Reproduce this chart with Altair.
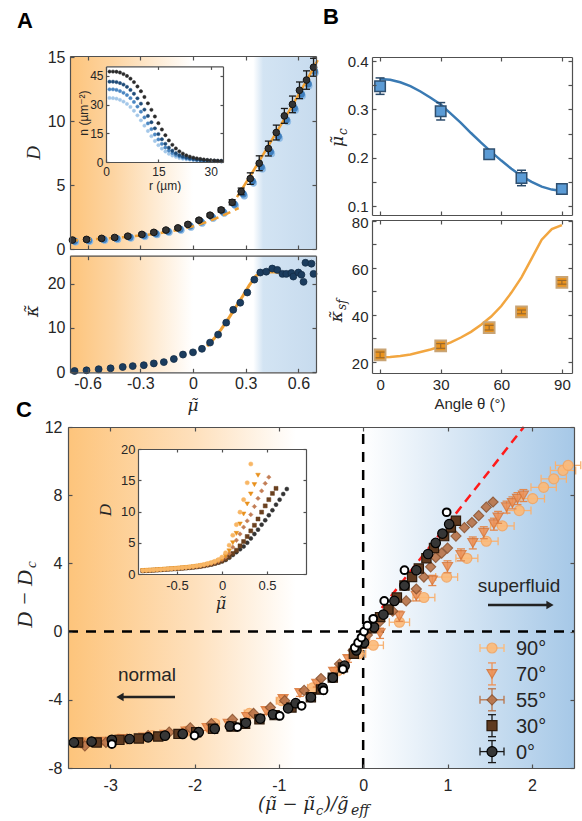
import altair as alt
import pandas as pd

W, H = 582, 821
SANS = "Liberation Sans, Arial, DejaVu Sans"
SERIF = "Liberation Serif, DejaVu Serif"
DSERIF = "DejaVu Serif"
LBL = "#262626"
FRAME = "#505050"

# ---------------- data ----------------
# Panel A (top): D vs mu
A_MU = [-0.686, -0.606, -0.52, -0.446, -0.371, -0.291, -0.223, -0.154, -0.086, -0.029, 0.034, 0.097,
        0.16, 0.223, 0.274, 0.326, 0.377, 0.429, 0.474, 0.52, 0.566, 0.606, 0.646, 0.686]
A_D = [0.70, 0.75, 0.83, 0.90, 1.00, 1.14, 1.30, 1.48, 1.65, 1.92, 2.25, 2.64,
       3.05, 3.65, 4.50, 5.50, 6.70, 7.85, 9.10, 10.40, 11.30, 12.40, 13.20, 14.20]
A_DERR = [0.1, 0.1, 0.1, 0.1, 0.1, 0.1, 0.1, 0.1, 0.1, 0.1, 0.12, 0.12,
          0.15, 0.2, 0.26, 0.45, 0.58, 0.58, 0.58, 0.58, 0.65, 0.65, 0.72, 0.7]
AB_MU = [-0.674, -0.594, -0.508, -0.434, -0.359, -0.279, -0.211, -0.142, -0.074, -0.017, 0.046, 0.109,
         0.172, 0.235, 0.286, 0.338, 0.389, 0.441, 0.486, 0.532, 0.577, 0.617, 0.656, 0.692]
AB_D = [0.62, 0.67, 0.75, 0.82, 0.92, 1.05, 1.20, 1.38, 1.55, 1.80, 2.12, 2.50,
        2.90, 3.50, 4.30, 5.30, 6.40, 7.60, 8.80, 10.10, 11.00, 12.10, 12.90, 13.90]
AL_MU = [-0.668, -0.588, -0.502, -0.428, -0.353, -0.273, -0.205, -0.136, -0.068, -0.011, 0.052, 0.115,
         0.178, 0.241, 0.292, 0.344, 0.395, 0.447, 0.492, 0.538, 0.583, 0.622, 0.66, 0.695]
AL_D = [0.55, 0.60, 0.68, 0.75, 0.85, 0.98, 1.12, 1.30, 1.47, 1.70, 2.02, 2.40,
        2.80, 3.40, 4.15, 5.15, 6.25, 7.45, 8.65, 9.95, 10.85, 11.95, 12.75, 13.75]
AFD_MU = [-0.70, -0.60, -0.50, -0.40, -0.30, -0.20, -0.10, 0.00, 0.05, 0.10, 0.15, 0.20, 0.26]
AFD_D = [0.66, 0.73, 0.82, 0.92, 1.05, 1.22, 1.45, 1.78, 1.98, 2.22, 2.50, 2.80, 3.20]
AFS_MU = [0.25, 0.35, 0.45, 0.55, 0.65, 0.71]
AFS_D = [4.05, 6.25, 8.55, 10.85, 13.25, 14.75]

# Panel A (bottom): kappa vs mu
K_MU = [-0.674, -0.606, -0.537, -0.469, -0.4, -0.343, -0.28, -0.223, -0.166, -0.109, -0.057, 0.0,
        0.051, 0.097, 0.143, 0.189, 0.229, 0.269, 0.309, 0.349, 0.383, 0.417, 0.451, 0.48,
        0.509, 0.531, 0.56, 0.571, 0.6, 0.617, 0.629, 0.64, 0.674, 0.686]
K_V = [0.3, 0.45, 0.7, 0.9, 1.2, 1.4, 1.6, 2.0, 2.3, 3.0, 4.0, 4.5,
       5.3, 6.7, 8.5, 11.2, 14.1, 15.7, 18.0, 20.9, 22.5, 22.7, 23.4, 23.1,
       22.2, 22.2, 22.4, 21.6, 22.5, 22.0, 20.4, 24.7, 24.5, 22.2]
KF_MU = [0.08, 0.12, 0.16, 0.20, 0.24, 0.28, 0.32, 0.36, 0.40, 0.45, 0.50, 0.55, 0.60, 0.62]
KF_V = [5.9, 7.6, 9.7, 12.0, 14.5, 17.0, 19.6, 21.8, 22.6, 22.7, 22.5, 22.4, 22.2, 21.6]

# Panel A inset: density profiles n(r)
R_UM = [1, 2, 3, 4, 5, 6, 7, 8, 9, 10, 11, 12, 13, 14, 15, 16, 17, 18, 19, 20, 21, 22, 23, 24, 25,
        26, 27, 28, 29, 30, 31, 32, 33]
N_1 = [47.3, 47.3, 47.2, 46.8, 46.0, 45.0, 43.6, 41.8, 39.5, 37.0, 34.0, 30.7, 27.3, 23.8, 20.3, 17.0,
       14.0, 11.3, 9.0, 7.1, 5.6, 4.4, 3.5, 2.8, 2.3, 1.9, 1.6, 1.3, 1.1, 0.9, 0.8, 0.7, 0.6]
N_2 = [42.0, 42.0, 41.8, 41.3, 40.5, 39.3, 37.7, 35.7, 33.3, 30.5, 27.4, 24.1, 20.8, 17.6, 14.6, 11.9,
       9.5, 7.5, 5.9, 4.6, 3.6, 2.9, 2.3, 1.9, 1.6, 1.3, 1.1, 0.9, 0.8, 0.7, 0.6, 0.5, 0.5]
N_3 = [38.0, 38.0, 37.7, 37.1, 36.2, 35.0, 33.4, 31.4, 29.0, 26.3, 23.3, 20.2, 17.2, 14.4, 11.8, 9.5,
       7.6, 6.0, 4.7, 3.7, 2.9, 2.3, 1.9, 1.6, 1.3, 1.1, 0.9, 0.8, 0.7, 0.6, 0.5, 0.5, 0.4]
N_4 = [33.5, 33.4, 33.1, 32.5, 31.6, 30.4, 28.8, 26.8, 24.4, 21.8, 19.0, 16.2, 13.5, 11.0, 8.8, 7.0,
       5.5, 4.3, 3.4, 2.7, 2.1, 1.7, 1.4, 1.2, 1.0, 0.9, 0.8, 0.7, 0.6, 0.5, 0.5, 0.4, 0.4]

# Panel B
ANGLE = [0, 30, 54, 70, 90]
MUC = [0.348, 0.296, 0.207, 0.158, 0.135]
MUC_ERR = [0.017, 0.018, 0.006, 0.016, 0.005]
KSF = [23.0, 26.8, 34.6, 41.3, 53.9]
KSF_ERR = [1.2, 1.0, 1.0, 0.8, 0.8]
THETA_FIT = [0, 5, 10, 15, 20, 25, 30, 35, 40, 45, 50, 55, 60, 65, 70, 75, 80, 85, 90]
MUC_FIT = [0.363, 0.361, 0.356, 0.348, 0.337, 0.324, 0.310, 0.291, 0.272, 0.251, 0.231, 0.212,
           0.194, 0.177, 0.162, 0.150, 0.140, 0.134, 0.131]
KSF_FIT = [22.0, 22.1, 22.5, 23.2, 24.2, 25.3, 26.6, 28.3, 30.4, 32.8, 35.8, 39.3, 43.8, 49.5,
           56.0, 64.0, 72.0, 76.5, 78.2]

# Panel C: scaled data
C90_X = [-3.30, -2.90, -2.50, -2.10, -1.76, -1.35, -0.97, -0.60, -0.30, -0.05, 0.12, 0.43, 0.72,
         0.99, 1.23, 1.46, 1.65, 1.85, 2.01, 2.14, 2.26, 2.37, 2.43]
C90_Y = [-6.50, -6.30, -6.10, -5.85, -5.40, -4.80, -4.05, -3.30, -2.30, -1.30, -0.80, 0.55, 2.00,
         3.20, 4.30, 5.30, 6.20, 7.10, 7.80, 8.46, 8.96, 9.45, 9.75]
C90_XERR = [0.05, 0.05, 0.05, 0.05, 0.05, 0.06, 0.06, 0.06, 0.07, 0.08, 0.12, 0.12, 0.13,
            0.13, 0.13, 0.14, 0.14, 0.14, 0.14, 0.15, 0.15, 0.15, 0.15]
C70_X = [-3.35, -3.10, -2.85, -2.60, -2.35, -2.10, -1.85, -1.60, -1.38, -1.15, -0.95, -0.75, -0.55,
         -0.35, -0.18, 0.02, 0.20, 0.43, 0.63, 0.82, 1.00, 1.16, 1.30, 1.43, 1.55, 1.60, 1.70,
         1.77, 1.83, 1.90]
C70_Y = [-6.55, -6.45, -6.30, -6.20, -6.05, -5.85, -5.65, -5.40, -5.00, -4.65, -3.95, -3.60, -3.05,
         -2.35, -1.60, -0.70, -0.10, 0.90, 2.10, 3.00, 3.80, 4.50, 5.20, 5.80, 6.30, 6.70, 7.30,
         7.55, 7.80, 7.98]
C70_YERR = [0.15, 0.15, 0.15, 0.15, 0.15, 0.15, 0.15, 0.15, 0.2, 0.2, 0.2, 0.2, 0.2,
            0.2, 0.2, 0.25, 0.3, 0.3, 0.3, 0.3, 0.35, 0.35, 0.35, 0.35, 0.35, 0.35, 0.35,
            0.35, 0.35, 0.35]
C55_X = [-3.30, -3.05, -2.80, -2.55, -2.30, -2.05, -1.80, -1.55, -1.30, -1.10, -0.93, -0.70, -0.50,
         -0.28, -0.12, 0.05, 0.20, 0.35, 0.51, 0.63, 0.72, 0.80, 0.86, 0.93, 1.00, 1.10, 1.20,
         1.29, 1.37, 1.46, 1.54]
C55_Y = [-6.70, -6.50, -6.30, -6.10, -5.90, -5.65, -5.40, -5.15, -4.80, -4.45, -4.05, -3.45, -2.75,
         -1.90, -1.10, -0.20, 0.60, 1.20, 1.80, 2.50, 3.20, 3.80, 4.35, 4.60, 4.90, 5.60, 6.10,
         6.40, 6.80, 7.30, 7.60]
C30_X = [-3.38, -3.16, -2.89, -2.66, -2.43, -2.19, -1.98, -1.78, -1.56, -1.40, -1.23, -1.05, -0.85,
         -0.62, -0.50, -0.36, -0.24, -0.11, -0.02, 0.10, 0.20, 0.30, 0.40, 0.49, 0.58, 0.66,
         0.75, 0.84, 0.96, 1.04, 1.10]
C30_Y = [-6.50, -6.50, -6.35, -6.27, -6.15, -6.00, -5.90, -5.70, -5.57, -5.40, -5.15, -4.90, -4.45,
         -3.85, -3.40, -2.70, -2.10, -1.30, -0.70, 0.20, 0.85, 1.30, 2.00, 2.70, 3.20, 3.70,
         4.30, 4.90, 5.60, 6.10, 6.50]
C0_X = [-3.43, -3.22, -2.98, -2.77, -2.55, -2.35, -2.14, -1.95, -1.76, -1.58, -1.39, -1.22, -1.07,
        -0.89, -0.80, -0.62, -0.48, -0.36, -0.22, -0.08, 0.01, 0.13, 0.24, 0.37, 0.49, 0.63,
        0.77, 0.86, 0.94, 1.02]
C0_Y = [-6.50, -6.45, -6.35, -6.30, -6.20, -6.10, -6.00, -5.90, -5.70, -5.55, -5.35, -5.10, -4.85,
        -4.50, -4.20, -3.85, -3.30, -2.70, -2.00, -1.10, -0.65, 0.25, 1.00, 1.80, 2.70, 3.60,
        4.55, 5.20, 5.75, 6.30]
CW_X = [-2.98, -2.00, -1.49, -0.99, -0.73, -0.47, -0.24, -0.10, -0.06, -0.02, 0.01, 0.05, 0.12,
        0.25, 0.49, 0.99]
CW_Y = [-6.60, -6.10, -5.60, -4.95, -4.35, -3.45, -2.20, -0.95, -0.65, -0.35, 0.00, 0.35, 0.75,
        1.80, 3.60, 7.00]
RED_X = [0.0, 1.905]
RED_Y = [0.0, 12.0]

# Panel C inset: D vs mu for each angle
MU_I = [-0.88, -0.84, -0.80, -0.76, -0.72, -0.68, -0.64, -0.60, -0.56, -0.52, -0.48, -0.44, -0.40,
        -0.36, -0.32, -0.28, -0.24, -0.20, -0.16, -0.12, -0.08, -0.04, 0.00, 0.04, 0.08, 0.12,
        0.16, 0.20, 0.24, 0.28, 0.32, 0.36, 0.40, 0.44, 0.48, 0.52, 0.56, 0.60, 0.64, 0.68, 0.72]
DI_0 = [0.50, 0.53, 0.56, 0.59, 0.63, 0.67, 0.71, 0.75, 0.79, 0.83, 0.87, 0.91, 0.96, 1.01, 1.07,
        1.14, 1.22, 1.31, 1.42, 1.54, 1.68, 1.84, 2.02, 2.25, 2.60, 3.05, 3.50, 3.95, 4.40, 5.00,
        5.70, 6.40, 7.10, 7.90, 8.60, 9.40, 10.20, 11.10, 11.90, 12.80, 13.60]
DI_30 = [0.52, 0.55, 0.58, 0.61, 0.65, 0.69, 0.73, 0.77, 0.81, 0.85, 0.89, 0.93, 0.98, 1.03, 1.09,
         1.16, 1.24, 1.33, 1.44, 1.56, 1.71, 1.88, 2.10, 2.40, 2.80, 3.30, 3.80, 4.50, 5.20, 6.00,
         6.90, 7.80, 8.80, 9.90, 10.90, 11.90, 12.90, 13.70]
DI_55 = [0.54, 0.57, 0.60, 0.63, 0.67, 0.71, 0.75, 0.79, 0.83, 0.87, 0.91, 0.96, 1.01, 1.07, 1.13,
         1.20, 1.29, 1.39, 1.51, 1.65, 1.82, 2.02, 2.30, 2.70, 3.30, 4.30, 5.40, 6.40, 7.50, 8.50,
         9.50, 10.80, 12.10, 13.30, 14.50, 15.50]
DI_70 = [0.55, 0.58, 0.61, 0.64, 0.68, 0.72, 0.76, 0.80, 0.84, 0.88, 0.93, 0.98, 1.03, 1.09, 1.16,
         1.24, 1.33, 1.44, 1.57, 1.72, 1.90, 2.12, 2.40, 2.90, 3.70, 5.00, 6.50, 8.00, 9.60, 11.20,
         12.80, 14.30, 15.80]
DI_90 = [0.56, 0.59, 0.62, 0.65, 0.69, 0.73, 0.77, 0.81, 0.86, 0.91, 0.96, 1.01, 1.07, 1.14, 1.21,
         1.29, 1.39, 1.51, 1.65, 1.82, 2.02, 2.30, 2.70, 3.40, 4.60, 6.20, 7.90, 9.90, 11.90, 14.60,
         17.60]

LEG_LABELS = ["90°", "70°", "55°", "30°", "0°"]

# ---------------- panel geometry (pixel ranges) ----------------
P = {
    "A1": ([-0.7, 0.7], [70, 316], [0, 15.08], [249, 56]),
    "A2": ([-0.7, 0.7], [70, 316], [0, 26.3], [372.3, 255.7]),
    "AI": ([0, 33.5], [106, 223], [0, 50], [162, 66.4]),
    "B1": ([-4, 95], [372, 572], [0.0814, 0.4083], [215, 57]),
    "B2": ([-4, 95], [372, 572], [15.3, 80.4], [373, 220]),
    "C": ([-3.5, 2.5], [68, 574], [-8, 12], [768, 427]),
    "CI": ([-0.933, 0.933], [138, 306], [0, 20], [574, 449]),
}


def sc(p, ch):
    xd, xr, yd, yr = P[p]
    if ch == "x":
        return alt.Scale(domain=xd, range=xr, zero=False, nice=False)
    return alt.Scale(domain=yd, range=yr, zero=False, nice=False)


def ex(p, f):
    return alt.X(f, type="quantitative", scale=sc(p, "x"), axis=None)


def ey(p, f):
    return alt.Y(f, type="quantitative", scale=sc(p, "y"), axis=None)


def points(p, xs, ys, shape, size, fill, stroke, sw=1.0, op=1.0):
    df = pd.DataFrame({"x": xs, "y": ys})
    return alt.Chart(df).mark_point(shape=shape, size=size, filled=True, fill=fill, stroke=stroke,
                                    strokeWidth=sw, opacity=op).encode(x=ex(p, "x"), y=ey(p, "y"))


def line(p, xs, ys, color, width, dash=None):
    df = pd.DataFrame({"x": xs, "y": ys})
    kw = dict(color=color, strokeWidth=width)
    if dash:
        kw["strokeDash"] = dash
    return alt.Chart(df).mark_line(**kw).encode(x=ex(p, "x"), y=ey(p, "y"))


def yerr(p, xs, ys, es, color, width=1.2, cap=6, op=1.0):
    df = pd.DataFrame({"x": xs, "y": ys, "e": es})
    df["lo"] = df["y"] - df["e"]
    df["hi"] = df["y"] + df["e"]
    b = alt.Chart(df)
    out = [b.mark_rule(color=color, strokeWidth=width, opacity=op).encode(x=ex(p, "x"), y=ey(p, "lo"), y2="hi")]
    for f in ("lo", "hi"):
        out.append(b.mark_rule(color=color, strokeWidth=width, opacity=op, xOffset=-cap / 2, x2Offset=cap / 2)
                   .encode(x=ex(p, "x"), x2="x", y=ey(p, f)))
    return out


def xerr(p, xs, ys, es, color, width=1.2, cap=6, op=1.0):
    df = pd.DataFrame({"x": xs, "y": ys, "e": es})
    df["lo"] = df["x"] - df["e"]
    df["hi"] = df["x"] + df["e"]
    b = alt.Chart(df)
    out = [b.mark_rule(color=color, strokeWidth=width, opacity=op).encode(x=ex(p, "lo"), x2="hi", y=ey(p, "y"))]
    for f in ("lo", "hi"):
        out.append(b.mark_rule(color=color, strokeWidth=width, opacity=op, yOffset=-cap / 2, y2Offset=cap / 2)
                   .encode(x=ex(p, f), y=ey(p, "y"), y2="y"))
    return out


def grad_rect(p, stops):
    xd, xr, yd, yr = P[p]
    df = pd.DataFrame({"x0": [xd[0]], "x1": [xd[1]], "y0": [yd[0]], "y1": [yd[1]]})
    g = alt.Gradient(gradient="linear", x1=0, x2=1, y1=0, y2=0,
                     stops=[alt.GradientStop(color=c, offset=o) for o, c in stops])
    return alt.Chart(df).mark_rect(fill=g).encode(x=ex(p, "x0"), x2="x1", y=ey(p, "y0"), y2="y1")


def white_rect(p):
    xd, xr, yd, yr = P[p]
    df = pd.DataFrame({"x0": [xd[0]], "x1": [xd[1]], "y0": [yd[0]], "y1": [yd[1]]})
    return alt.Chart(df).mark_rect(fill="white").encode(x=ex(p, "x0"), x2="x1", y=ey(p, "y0"), y2="y1")


def text(t, x, y, size, font=SANS, angle=0, align="center", baseline="middle", style="normal",
         weight="normal", color=LBL):
    df = pd.DataFrame({"t": [t]})
    return alt.Chart(df).mark_text(fontSize=size, font=font, angle=angle, align=align, baseline=baseline,
                                   fontStyle=style, fontWeight=weight, color=color).encode(
        text="t:N", x=alt.value(x), y=alt.value(y))


def math(t, x, y, size, angle=0, align="center", baseline="middle", font=DSERIF):
    return text(t, x, y, size, font=font, angle=angle, align=align, baseline=baseline, style="italic")


def axes(p, xt, yt, xl, yl, lsize, tsize=4, padx=4, pady=5, yoff=0):
    xd, xr, yd, yr = P[p]
    left, right = xr
    bottom, top = yr
    df = pd.DataFrame({"x": [xd[0]], "y": [yd[0]]})
    base = alt.Chart(df).mark_point(opacity=0)
    common = dict(grid=False, title=None, zindex=1, domainColor=FRAME, domainWidth=1.2,
                  tickColor=FRAME, tickWidth=1.2, labels=False, tickSize=tsize)
    lab = dict(grid=False, title=None, zindex=1, ticks=False, domain=False, labelFont=SANS,
               labelFontSize=lsize, labelColor=LBL, labelFlush=False, labelOverlap=False,
               labelExpr="'' + datum.value")
    out = []
    out.append(base.encode(
        x=alt.X("x:Q", scale=sc(p, "x"), axis=alt.Axis(orient="bottom", offset=bottom - H, values=xl,
                                                       labelPadding=padx, **lab)),
        y=alt.Y("y:Q", scale=sc(p, "y"), axis=alt.Axis(orient="left", offset=-left, values=yl,
                                                       labelPadding=pady, labelOffset=yoff, **lab))))
    out.append(base.encode(
        x=alt.X("x:Q", scale=sc(p, "x"), axis=alt.Axis(orient="top", offset=-bottom, values=xt, **common)),
        y=alt.Y("y:Q", scale=sc(p, "y"), axis=alt.Axis(orient="right", offset=left - W, values=yt, **common))))
    out.append(base.encode(
        x=alt.X("x:Q", scale=sc(p, "x"), axis=alt.Axis(orient="bottom", offset=top - H, values=xt, **common)),
        y=alt.Y("y:Q", scale=sc(p, "y"), axis=alt.Axis(orient="left", offset=-right, values=yt, **common))))
    return out


L = []
ORANGE_BG = "#FDC47B"
# ---------------- backgrounds ----------------
A_STOPS = [(0, ORANGE_BG), (0.18, "#FDD5A3"), (0.5, "#FFFFFF"), (0.745, "#FFFFFF"),
           (0.785, "#D3E4F3"), (1, "#C7DBEE")]
L.append(grad_rect("A1", A_STOPS))
L.append(grad_rect("A2", A_STOPS))
L.append(grad_rect("C", [(0, ORANGE_BG), (0.25, "#FEE0BC"), (0.45, "#FFFFFF"), (0.582, "#FFFFFF"),
                          (1, "#A6C8E7")]))

# ---------------- Panel A top ----------------
L.append(points("A1", AL_MU, AL_D, "circle", 45, "#8DBAE4", "#8DBAE4", 0.5))
L.append(points("A1", AB_MU, AB_D, "circle", 45, "#3F7EBD", "#3F7EBD", 0.5))
L.append(line("A1", AFD_MU, AFD_D, "#F0A033", 2.5, [8, 5]))
L.append(line("A1", AFS_MU, AFS_D, "#F0A033", 2.5))
L += yerr("A1", A_MU, A_D, A_DERR, "#1A1A1A", 1.3, 7)
L.append(points("A1", A_MU, A_D, "circle", 45, "#333333", "#151515", 1.0))

# inset A
L.append(white_rect("AI"))
for ns, col in ((N_4, "#A3C7E8"), (N_3, "#4A86C2"), (N_2, "#1E4B78"), (N_1, "#2A2A2A")):
    L.append(points("AI", R_UM, ns, "circle", 11, col, col, 0.5))

# ---------------- Panel A bottom ----------------
L.append(line("A2", KF_MU, KF_V, "#F0A033", 3))
L.append(points("A2", K_MU, K_V, "circle", 48, "#1B3C5E", "#132C46", 0.8))

# ---------------- Panel B ----------------
L.append(line("B1", THETA_FIT, MUC_FIT, "#3A7AB3", 2.5))
L += yerr("B1", ANGLE, MUC, MUC_ERR, "#2A4A6A", 1.5, 9)
L.append(points("B1", ANGLE, MUC, "square", 110, "#5B9BD5", "#2F4F6F", 1.5))
L.append(line("B2", THETA_FIT, KSF_FIT, "#F2A640", 2.5))
L.append(points("B2", ANGLE, KSF, "square", 115, "#EB941E", "#C9A474", 2.0))
L += yerr("B2", ANGLE, KSF, KSF_ERR, "#9C6A2C", 1.2, 9)

# ---------------- Panel C ----------------
xd, xr, yd, yr = P["C"]
zero_h = pd.DataFrame({"x0": [xd[0]], "x1": [xd[1]], "y": [0.0]})
L.append(alt.Chart(zero_h).mark_rule(color="black", strokeWidth=2.5, strokeDash=[10, 8])
         .encode(x=ex("C", "x0"), x2="x1", y=ey("C", "y")))
zero_v = pd.DataFrame({"x": [0.0], "y0": [yd[0]], "y1": [yd[1]]})
L.append(alt.Chart(zero_v).mark_rule(color="black", strokeWidth=2.5, strokeDash=[10, 8])
         .encode(x=ex("C", "x"), y=ey("C", "y0"), y2="y1"))
L.append(line("C", RED_X, RED_Y, "#FF1A1A", 2.5, [9, 6]))

L += xerr("C", C90_X, C90_Y, C90_XERR, "#F7B273", 1.3, 8)
L.append(points("C", C90_X, C90_Y, "circle", 100, "#FDBA78", "#F4A661", 1.2, 0.9))
L += yerr("C", C70_X, C70_Y, C70_YERR, "#E3894E", 1.3, 8)
L.append(points("C", C70_X, C70_Y, "triangle-down", 100, "#EE9256", "#D9783C", 1.2, 0.88))
L.append(points("C", C55_X, C55_Y, "diamond", 100, "#B9754B", "#8F5632", 1.2, 0.92))
L.append(points("C", C30_X, C30_Y, "square", 85, "#5E3A20", "#2E1B0C", 1.2))
L.append(points("C", C0_X, C0_Y, "circle", 90, "#363636", "#000000", 1.2))
L.append(points("C", CW_X, CW_Y, "circle", 60, "#FFFFFF", "#000000", 2.0))

# inset C
L.append(white_rect("CI"))
L.append(points("CI", MU_I[:len(DI_0)], DI_0, "circle", 16, "#333333", "#333333", 0.5))
L.append(points("CI", MU_I[:len(DI_30)], DI_30, "square", 16, "#6A401F", "#6A401F", 0.5))
L.append(points("CI", MU_I[:len(DI_55)], DI_55, "diamond", 20, "#C27D55", "#C27D55", 0.5))
L.append(points("CI", MU_I[:len(DI_70)], DI_70, "triangle-down", 22, "#E8901C", "#E8901C", 0.5))
L.append(points("CI", MU_I[:len(DI_90)], DI_90, "circle", 18, "#F8B665", "#F8B665", 0.5))

# legend (panel C)
LEG_STYLE = [("circle", "#FDBA78", "#F4A661", 0.9, "h"), ("triangle-down", "#EE9256", "#D9783C", 0.9, "v"),
             ("diamond", "#B9754B", "#8F5632", 0.92, "hv"), ("square", "#5E3A20", "#2E1B0C", 1.0, "v"),
             ("circle", "#363636", "#000000", 1.0, "hv")]
one = pd.DataFrame({"a": [0]})
for i, (lab, (shape, fill, stroke, op, eb)) in enumerate(zip(LEG_LABELS, LEG_STYLE)):
    cy = 648 + 25.9 * i
    cx = 492
    ecol = fill if i < 3 else "#1A1A1A"
    if "h" in eb:
        L.append(alt.Chart(one).mark_rule(color=ecol, strokeWidth=1.3).encode(
            x=alt.value(cx - 12), x2=alt.value(cx + 12), y=alt.value(cy)))
        for dx in (-12, 12):
            L.append(alt.Chart(one).mark_rule(color=ecol, strokeWidth=1.3).encode(
                x=alt.value(cx + dx), y=alt.value(cy - 4), y2=alt.value(cy + 4)))
    if "v" in eb:
        L.append(alt.Chart(one).mark_rule(color=ecol, strokeWidth=1.3).encode(
            x=alt.value(cx), y=alt.value(cy - 11), y2=alt.value(cy + 11)))
        for dy in (-11, 11):
            L.append(alt.Chart(one).mark_rule(color=ecol, strokeWidth=1.3).encode(
                x=alt.value(cx - 4), x2=alt.value(cx + 4), y=alt.value(cy + dy)))
    L.append(alt.Chart(one).mark_point(shape=shape, size=100, filled=True, fill=fill, stroke=stroke,
                                       strokeWidth=1.2, opacity=op).encode(x=alt.value(cx), y=alt.value(cy)))
    L.append(text(lab, 516, cy + 1, 20, align="left"))

# annotations in C
L.append(text("normal", 147, 675, 19))
L.append(alt.Chart(one).mark_rule(color="#222222", strokeWidth=2.5).encode(
    x=alt.value(122), x2=alt.value(175), y=alt.value(697)))
L.append(alt.Chart(one).mark_point(shape="triangle-left", size=70, filled=True, color="#222222", opacity=1)
         .encode(x=alt.value(120), y=alt.value(697)))
L.append(text("superfluid", 519, 586, 19))
L.append(alt.Chart(one).mark_rule(color="#222222", strokeWidth=2.5).encode(
    x=alt.value(488), x2=alt.value(548), y=alt.value(605)))
L.append(alt.Chart(one).mark_point(shape="triangle-right", size=70, filled=True, color="#222222", opacity=1)
         .encode(x=alt.value(550), y=alt.value(605)))

# ---------------- titles / labels ----------------
L.append(text("A", 25, 21, 22, weight="bold", color="black"))
L.append(text("B", 331, 17, 22, weight="bold", color="black"))
L.append(text("C", 24, 410, 22, weight="bold", color="black"))

# panel A axis titles
L.append(math("D", 34, 153, 19, angle=270, font=SERIF))
L.append(math("κ̃", 33, 311, 18, angle=270))
L.append(math("μ̃", 193, 411, 17, baseline="alphabetic"))
# panel B axis titles
L.append(math("μ̃", 338, 136, 17, angle=270, align="right"))
L.append(math("c", 343, 135, 12, angle=270, align="left"))
L.append(math("κ̃", 337, 311, 17, angle=270, align="right"))
L.append(math("sf", 342, 310, 12, angle=270, align="left"))
L.append(text("Angle θ (°)", 470, 409, 15, baseline="alphabetic"))
# panel C axis titles
L.append(math("D − D", 25, 570, 22, angle=270, align="right", font=SERIF))
L.append(math("c", 31, 568, 15, angle=270, align="left", font=SERIF))
L.append(math("(μ̃ − μ̃", 315, 810, 18, align="right", baseline="alphabetic"))
L.append(math("c", 316, 815, 13, align="left", baseline="alphabetic"))
L.append(math(")/g̃", 324, 810, 18, align="left", baseline="alphabetic"))
L.append(math("eff", 351, 815, 14, align="left", baseline="alphabetic"))

# inset titles
L.append(text("n (µm⁻²)", 84, 113, 12, angle=270))
L.append(text("r (µm)", 165, 186, 12))
L.append(math("D", 106, 510, 17, angle=270, font=SERIF))
L.append(math("μ̃", 221, 609, 16, baseline="alphabetic"))

# ---------------- axes ----------------
L += axes("A1", [-0.6, -0.3, 0, 0.3, 0.6], [0, 5, 10, 15], [], [0, 5, 10, 15], 16)
L += axes("A2", [-0.6, -0.3, 0, 0.3, 0.6], [0, 10, 20], [-0.6, -0.3, 0, 0.3, 0.6], [0, 10, 20], 16, padx=3)
L += axes("AI", [0, 15, 30], [0, 15, 30, 45], [0, 15, 30], [0, 15, 30, 45], 12, tsize=3, padx=4, pady=3)
L += axes("B1", [0, 30, 60, 90], [0.1, 0.15, 0.2, 0.25, 0.3, 0.35, 0.4], [], [0.1, 0.2, 0.3, 0.4], 15, pady=4)
L += axes("B2", [0, 30, 60, 90], [20, 30, 40, 50, 60, 70, 80], [0, 30, 60, 90], [20, 40, 60, 80], 15,
          padx=4, pady=4, yoff=2)
L += axes("C", [-3, -2, -1, 0, 1, 2], [-8, -4, 0, 4, 8, 12], [-3, -2, -1, 0, 1, 2], [-8, -4, 0, 4, 8, 12],
          16, padx=9, pady=6)
L += axes("CI", [-0.5, 0, 0.5], [0, 5, 10, 15, 20], [-0.5, 0, 0.5], [0, 5, 10, 15, 20], 13, tsize=3,
          padx=5, pady=3)

chart = alt.layer(*L).resolve_scale(x="independent", y="independent").resolve_axis(
    x="independent", y="independent").properties(
    width=W, height=H, autosize=alt.AutoSizeParams(type="none"), padding=0,
    background="white").configure_view(stroke=None)

chart.save("out.html", embed_options={"renderer": "svg", "actions": False})
